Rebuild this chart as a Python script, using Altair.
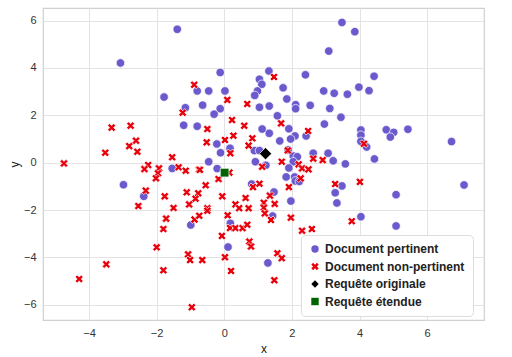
import altair as alt
import pandas as pd

# Document pertinent (blue circles)
pert_x = [-1.39, -3.07, -1.78, -1.15, -0.80, 3.48, 3.09, -0.12, 1.32, 1.04, 1.11, 2.40, 1.74, 0.98,
          0.90, 1.85, 2.94, 3.25, 3.64, 0.02, -0.46, -0.64, -0.12, 1.04, 1.33, 2.11, 2.11, 2.54, 3.12,
          3.86, 4.43, 3.98, 4.28, -1.20, -0.80, -1.54, -2.98, -2.38, -0.30, 1.57, 3.45, 2.96, 1.12,
          1.33, 1.91, 2.09, 1.96, 2.42, 1.64, -0.22, 0.17, -0.11, 0.89, 1.04, 1.89, 2.04, 2.16, 2.63,
          3.07, 3.22, 3.58, 0.92, 1.23, 2.04, -0.46, -0.21, 1.91, 1.83, 2.08, 2.10, 2.22, 0.81, 1.47,
          3.48, 3.28, 3.33, 1.97, 4.04, 4.04, 4.04, 4.21, 4.44, 4.79, 5.01, 4.91, 5.43, 6.72, 5.08,
          7.09, 4.04, 5.08, -0.99, 0.18, 1.43, 0.11, 1.29]
pert_y = [5.63, 4.21, 2.77, 2.32, 3.03, 5.92, 4.71, 3.81, 3.87, 3.52, 3.31, 3.71, 3.16, 3.03,
          2.84, 2.69, 3.03, 2.93, 2.89, 3.03, 3.03, 2.43, 2.28, 2.34, 2.39, 2.45, 2.28, 2.42, 2.29,
          5.53, 3.65, 3.19, 3.04, 1.58, 1.54, -0.24, -0.93, -1.42, 2.05, 1.98, 1.92, 1.63, 1.42,
          1.24, 1.43, 1.13, 1.00, 1.13, 0.92, 0.79, 0.61, 0.42, 0.51, 0.51, 0.54, 0.28, 0.25, 0.40,
          0.40, 0.08, -0.05, 0.04, -0.11, 0.04, 0.04, -0.25, -0.22, -0.60, -0.60, -0.77, -0.79, -0.90, -1.24,
          -0.98, -1.27, -1.70, -1.62, 1.38, 1.16, 0.90, 0.66, 0.16, 1.39, 1.28, 1.08, 1.41, 0.89, -1.35,
          -0.94, -2.28, -2.67, -2.63, -2.56, -2.25, -3.56, -4.23]

# Document non-pertinent (red crosses)
nonp_x = [-0.89, 1.47, 0.09, 0.68, -1.23, -3.33, -2.77, -2.61, -2.81, -3.52, -2.57, -1.54, -4.74,
          -2.25, -2.36, -1.93, -1.96, -2.02, -1.35, -1.14, -0.75, -2.32, -1.76, -1.11, -0.77, -0.85,
          -1.04, -2.54, -1.50, 0.23, 0.59, -0.50, 1.68, 0.27, 0.02, 0.83, -0.52, 0.72, 2.48, 0.18,
          1.88, 1.70, 1.12, 2.20, 2.30, 2.49, 2.63, 2.91, -0.72, 0.15, -0.17, 2.26, -0.55, 0.85, 1.04,
          1.91, 3.28, -0.06, 0.63, 1.35, 1.17, 1.49, 0.33, 0.44, 0.72, 1.17, -0.50, 4.13, 4.01, 3.77,
          -1.72, -1.80, -0.88, -0.74, -2.00, -1.07, -1.01, -3.49, -1.80, -4.29, -0.96, -0.50, 0.10,
          1.20, 1.38, 1.97, 2.30, 0.17, 0.33, 0.54, 0.68, -0.07, 0.74, 0.79, 0.02, -0.65, 0.20, 1.57,
          1.70, 1.48, 2.59]
nonp_y = [3.29, 3.62, 2.65, 2.48, 2.11, 1.48, 1.56, 0.93, 0.70, 0.42, 0.46, 0.23, -0.03,
          -0.10, -0.27, -0.24, -0.45, -0.66, -0.19, -0.34, -0.30, -1.18, -1.42, -1.25, -1.29, -1.52,
          -1.76, -1.83, -1.91, 1.80, 1.56, 1.42, 1.66, 1.14, 0.96, 1.03, 0.86, 0.72, 1.34, 0.40,
          0.52, 0.04, -0.17, -0.07, -0.24, -0.28, 0.17, 0.11, -0.30, -0.42, -0.69, -0.66, -0.95, -1.03, -0.89,
          -1.03, -0.90, -1.42, -1.49, -1.39, -1.69, -1.74, -1.76, -1.92, -1.92, -1.90, -1.92, 0.80, -0.81, -2.47,
          -2.36, -2.80, -2.40, -2.24, -3.57, -3.87, -4.11, -4.29, -4.54, -4.91, -6.10, -2.03, -2.22,
          -2.14, -2.42, -2.32, -2.87, -2.76, -2.76, -2.76, -2.62, -3.09, -3.33, -3.54, -3.99, -4.11, -4.57, -3.82,
          -4.03, -4.96, -2.80]

orig_query = (1.22, 0.38)
ext_query = (0.01, -0.42)

categories = ["Document pertinent", "Document non-pertinent", "Requête originale", "Requête étendue"]
colors = ["#6A5ACD", "#E8000B", "#000000", "#006400"]
x_shape = ("M-1,-0.5L-0.5,-1L0,-0.5L0.5,-1L1,-0.5L0.5,0L1,0.5L0.5,1L0,0.5L-0.5,1L-1,0.5L-0.5,0Z")
shapes = ["circle", x_shape, "diamond", "square"]
sizes = [72, 66, 150, 75]

rows = []
for a, b in zip(pert_x, pert_y):
    rows.append({"x": a, "y": b, "type": categories[0], "o": 0, "s": sizes[0]})
for a, b in zip(nonp_x, nonp_y):
    rows.append({"x": a, "y": b, "type": categories[1], "o": 1, "s": sizes[1]})
rows.append({"x": orig_query[0], "y": orig_query[1], "type": categories[2], "o": 2, "s": sizes[2]})
rows.append({"x": ext_query[0], "y": ext_query[1], "type": categories[3], "o": 3, "s": sizes[3]})
df = pd.DataFrame(rows)

chart = alt.Chart(df).mark_point(filled=True, opacity=1, stroke="white", strokeWidth=0.7).encode(
    x=alt.X("x:Q", title="x", scale=alt.Scale(domain=[-5.36, 7.68], nice=False, zero=False),
            axis=alt.Axis(values=[-4, -2, 0, 2, 4, 6])),
    y=alt.Y("y:Q", title="y", scale=alt.Scale(domain=[-6.64, 6.53], nice=False, zero=False),
            axis=alt.Axis(values=[-6, -4, -2, 0, 2, 4, 6])),
    color=alt.Color("type:N", scale=alt.Scale(domain=categories, range=colors), title=None,
                    legend=alt.Legend(orient="none", legendX=258, legendY=227)),
    shape=alt.Shape("type:N", scale=alt.Scale(domain=categories, range=shapes), title=None),
    size=alt.Size("s:Q", scale=None),
    order=alt.Order("o:Q"),
).properties(
    width=441, height=312,
    autosize=alt.AutoSizeParams(type="none"),
    padding={"left": 43, "top": 8, "right": 28, "bottom": 37},
).configure_view(
    stroke="#d0d0d0", strokeWidth=1.2
).configure_axis(
    grid=True, gridColor="#e3e3e3", gridWidth=1, domain=False, ticks=False,
    labelFont="Liberation Sans", labelFontSize=11, labelColor="#333333", labelPadding=7,
    titleFont="Liberation Sans", titleFontSize=12, titleFontWeight="normal", titleColor="#222222",
).configure_axisX(titlePadding=5).configure_axisY(titlePadding=2).configure_legend(
    fillColor="white", strokeColor="#dddddd", cornerRadius=4, padding=8,
    labelFont="Liberation Sans", labelFontSize=12, labelFontWeight="bold", labelColor="#222222",
    symbolSize=55, rowPadding=5.5, symbolStrokeWidth=0,
)

chart.save("out.html", embed_options={"renderer": "svg", "actions": False})
